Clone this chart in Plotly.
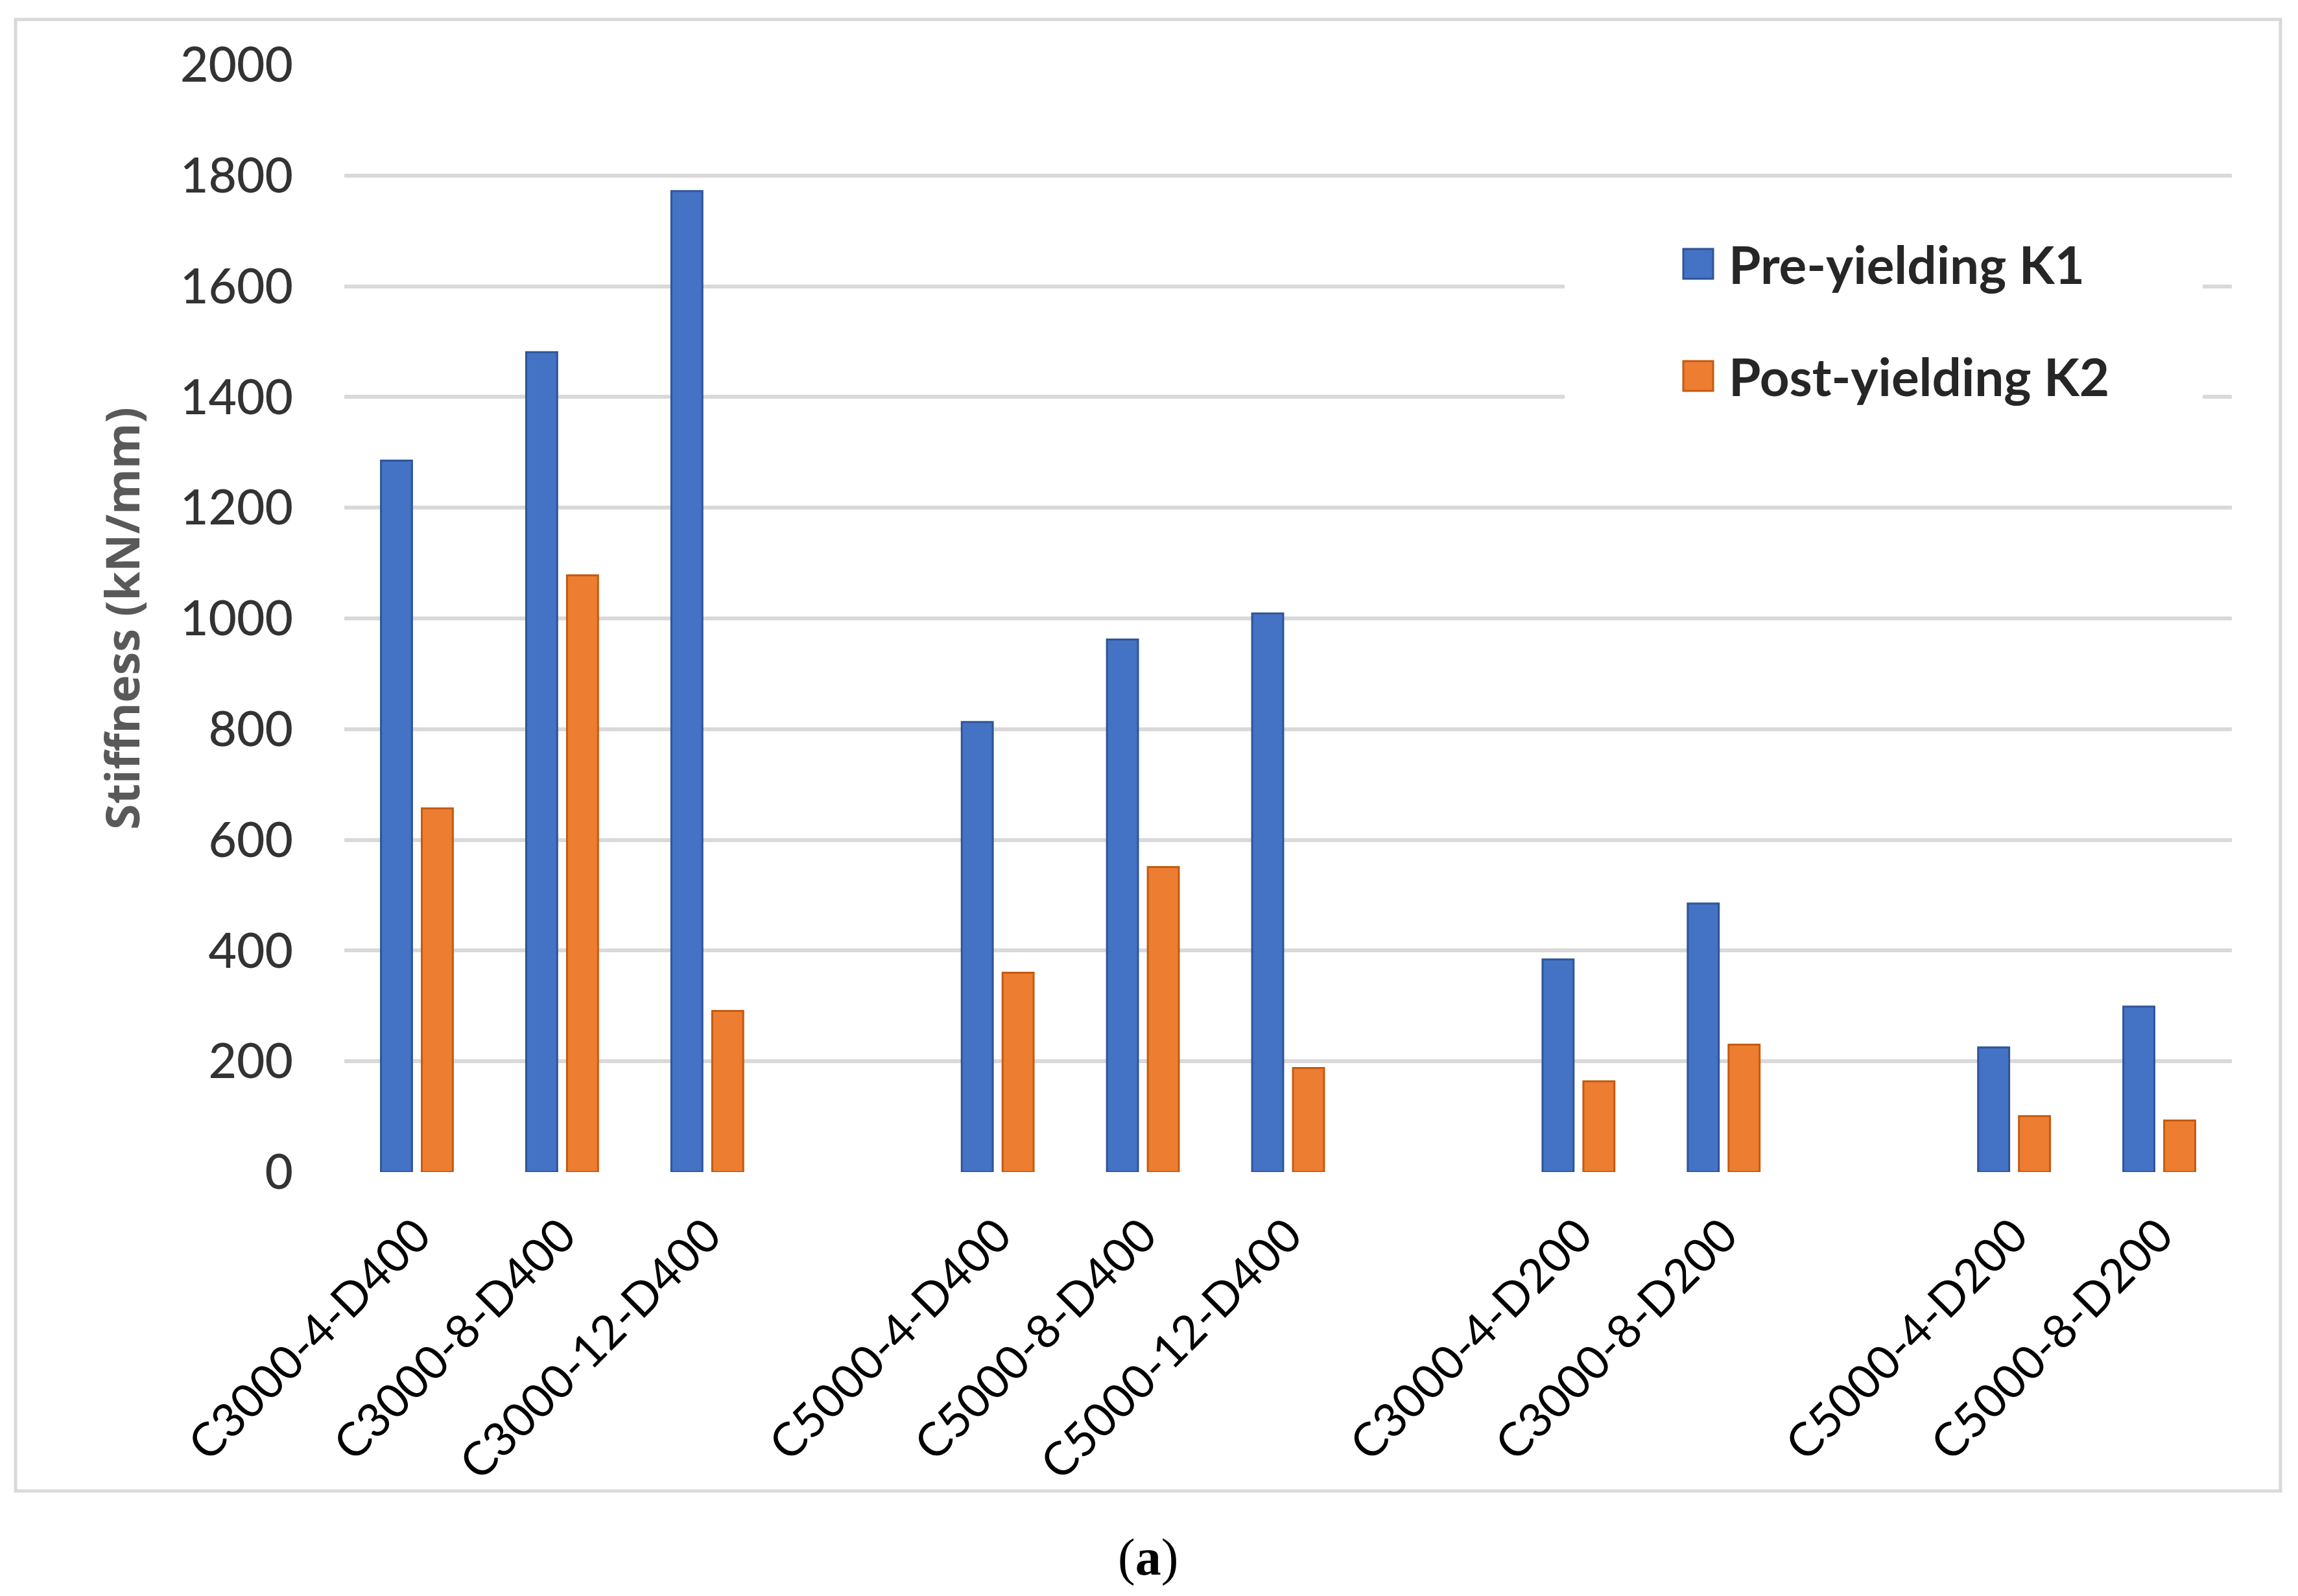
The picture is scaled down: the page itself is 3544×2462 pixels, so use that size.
import plotly.graph_objects as go

# ---- data ----
categories = ["C3000-4-D400", "C3000-8-D400", "C3000-12-D400", " ",
              "C5000-4-D400", "C5000-8-D400", "C5000-12-D400", "  ",
              "C3000-4-D200", "C3000-8-D200", "   ",
              "C5000-4-D200", "C5000-8-D200"]
pre_yielding_k1 = [1285, 1481, 1772, None, 813, 962, 1009, None, 384, 485, None, 225, 299]
post_yielding_k2 = [657, 1078, 291, None, 360, 551, 188, None, 164, 230, None, 101, 93]
series_names = ["Pre-yielding K1", "Post-yielding K2"]
y_ticks = [0, 200, 400, 600, 800, 1000, 1200, 1400, 1600, 1800, 2000]

BLUE, BLUE_EDGE = "#4472C4", "#2F5597"
ORANGE, ORANGE_EDGE = "#ED7D31", "#C55A11"

W, H = 3544, 2462
OX, OY = -6, -8  # global layout nudge
L, R, T, B = 529 + OX, 104 - OX, 100 + OY, 654 - OY
pw, ph = W - L - R, H - T - B


def px(x):
    return (x + OX - L) / pw


def py(y):
    return (H - B - (y + OY)) / ph


fig = go.Figure()
fig.add_trace(go.Bar(x=categories, y=pre_yielding_k1, name=series_names[0],
                     marker=dict(color=BLUE, line=dict(color=BLUE_EDGE, width=3)),
                     showlegend=False))
fig.add_trace(go.Bar(x=categories, y=post_yielding_k2, name=series_names[1],
                     marker=dict(color=ORANGE, line=dict(color=ORANGE_EDGE, width=3)),
                     showlegend=False))

shapes = []
# outer chart border
shapes.append(dict(type="rect", xref="paper", yref="paper",
                   x0=px(22), x1=px(3515), y0=py(2300), y1=py(30),
                   line=dict(color="#D9D9D9", width=5), fillcolor="rgba(0,0,0,0)",
                   layer="above"))
# legend background (hides gridlines)
shapes.append(dict(type="rect", xref="paper", yref="paper",
                   x0=px(2411), x1=px(3395), y0=py(700), y1=py(300),
                   line=dict(width=0), fillcolor="white", layer="above"))
# legend keys
shapes.append(dict(type="rect", xref="paper", yref="paper",
                   x0=px(2594), x1=px(2640), y0=py(430), y1=py(384),
                   line=dict(color=BLUE_EDGE, width=3), fillcolor=BLUE, layer="above"))
shapes.append(dict(type="rect", xref="paper", yref="paper",
                   x0=px(2594), x1=px(2640), y0=py(603), y1=py(557),
                   line=dict(color=ORANGE_EDGE, width=3), fillcolor=ORANGE, layer="above"))

annotations = [
    dict(text=series_names[0], xref="paper", yref="paper", x=px(2662), y=py(407),
         xanchor="left", yanchor="middle", showarrow=False,
         font=dict(family="Lato", size=80, color="#262626", weight="bold")),
    dict(text=series_names[1], xref="paper", yref="paper", x=px(2662), y=py(580),
         xanchor="left", yanchor="middle", showarrow=False,
         font=dict(family="Lato", size=80, color="#262626", weight="bold")),
    dict(text="(<b>a</b>)", xref="paper", yref="paper", x=px(1768), y=py(2402),
         xanchor="center", yanchor="middle", showarrow=False,
         font=dict(family="Liberation Serif", size=80, color="black")),
]

fig.update_layout(
    width=W, height=H,
    margin=dict(l=L, r=R, t=T, b=B, autoexpand=False),
    paper_bgcolor="white", plot_bgcolor="white",
    barmode="group", bargap=0.4375, bargroupgap=0.24,
    shapes=shapes, annotations=annotations,
    showlegend=False,
)
fig.update_xaxes(
    type="category", categoryorder="array", categoryarray=categories,
    tickangle=-45, tickfont=dict(family="Lato", size=72, color="black"),
    showgrid=False, showline=False, zeroline=False, ticks="",
    ticklabelstandoff=40, automargin=False,
)
fig.update_yaxes(
    range=[0, 2000], tickvals=y_ticks,
    tickfont=dict(family="Lato", size=75, color="#333333", weight=500),
    showgrid=True, gridcolor="#D9D9D9", gridwidth=6,
    zeroline=False, showline=False, ticks="", ticklabelstandoff=78,
    title=dict(text="Stiffness (kN/mm)", standoff=38,
               font=dict(family="Open Sans", size=72, color="#595959", weight="bold")),
    automargin=False,
)

fig.write_html("out.html")
